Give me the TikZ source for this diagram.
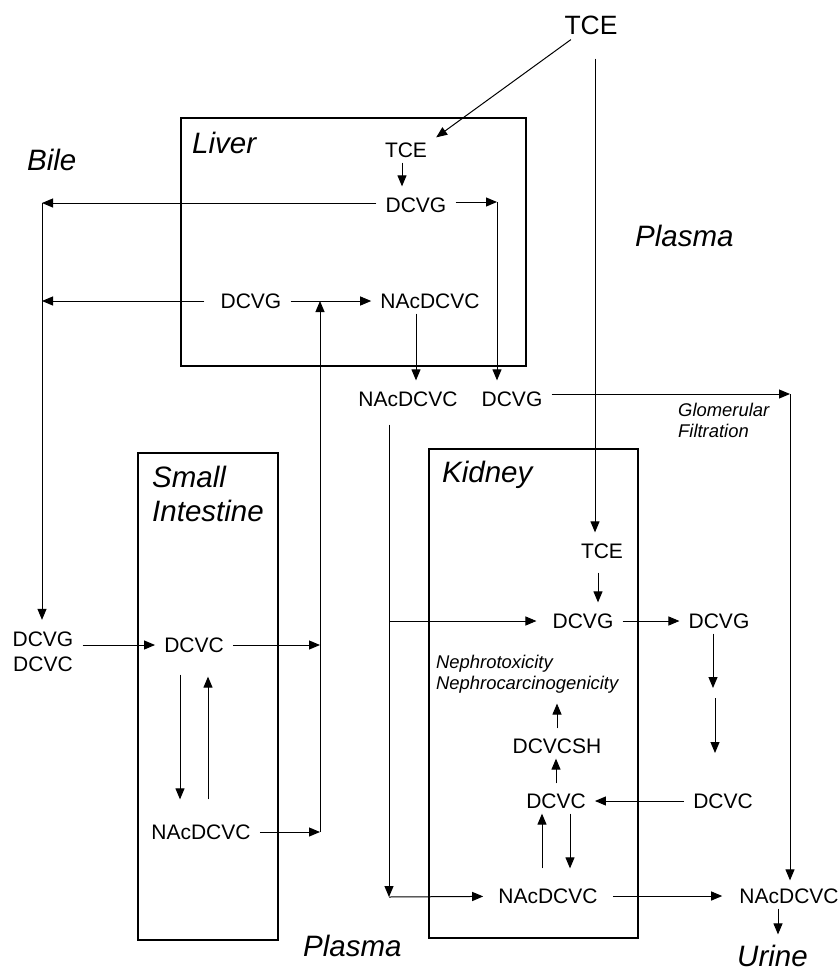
\documentclass[tikz,border=0pt]{standalone}
\usepackage{fontspec}
\setmainfont{Liberation Sans}
\usepackage{tikz}
\usetikzlibrary{arrows.meta}
\newcommand{\chemsize}{\fontsize{21}{25}\selectfont}
\newcommand{\organsize}{\fontsize{29.5}{34}\selectfont\itshape}
\newcommand{\notesize}{\fontsize{18.4}{21}\selectfont\itshape}

\begin{document}
\begin{tikzpicture}[x=1pt,y=-1pt]
\tikzstyle{chem}=[font=\chemsize,inner xsep=9pt,inner ysep=5pt]
\tikzstyle{organ}=[font=\organsize,inner sep=0pt,anchor=base west]
\tikzstyle{note}=[font=\notesize,inner sep=0pt,anchor=north west,align=left]
\tikzstyle{flow}=[line width=1pt,-{Triangle[length=11pt,width=9pt]}]
\tikzstyle{wall}=[line width=1.1pt]
\useasboundingbox (0,0) rectangle (840,972);

% compartments
\draw[wall] (181,118) rectangle (526,366);
\draw[wall] (138,453) rectangle (278,940);
\draw[wall] (429,449) rectangle (638,938);

\node[organ] (liver) at (192,153) {Liver};
\node[organ] (bile) at (27,170) {Bile};
\node[organ] (kidney) at (442,482) {Kidney};
\node[organ] (plasmaTop) at (635,246) {Plasma};
\node[organ] (plasmaBot) at (303,956) {Plasma};
\node[organ] (urine) at (737,966) {Urine};
\node[note,font=\organsize] (smint) at (152,466) {Small\\Intestine};
\node[note] (glomText) at (678,403) {Glomerular\\Filtration};
\node[note] (nephro) at (436,655) {Nephrotoxicity\\Nephrocarcinogenicity};

% species
\node[chem,font=\fontsize{26.5}{30}\selectfont] (tceTop) at (591,25) {TCE};
\node[chem] (tceL) at (406,150) {TCE};
\node[chem] (dcvgA) at (416,205) {DCVG};
\node[chem] (dcvgB) at (251,301) {DCVG};
\node[chem] (nacL) at (430,301) {NAcDCVC};
\node[chem] (nacP) at (408,399) {NAcDCVC};
\node[chem] (dcvgP) at (512,399) {DCVG};
\node[chem,align=center] (bileMix) at (43,652) {DCVG\\DCVC};
\node[chem] (dcvcS) at (194,645) {DCVC};
\node[chem] (nacS) at (201,832) {NAcDCVC};
\node[chem] (tceK) at (602,551) {TCE};
\node[chem] (dcvgK) at (583,621) {DCVG};
\node[chem] (dcvgR) at (719,621) {DCVG};
\node[chem] (dcvcsh) at (557,746) {DCVCSH};
\node[chem] (dcvcK) at (556,801) {DCVC};
\node[chem] (dcvcR) at (723,801) {DCVC};
\node[chem] (nacK) at (548,896) {NAcDCVC};
\node[chem] (nacR) at (789,896) {NAcDCVC};

% liver
\coordinate (bileTop) at (42,203);
\coordinate (liverOut) at (497,202);
\coordinate (siTop) at (320,301);
\draw[flow] (tceTop) -- (tceL.north east);
\draw[flow,shorten >=6pt] ([xshift=-4pt]tceL.south) -- ([xshift=-4pt]tceL.south |- dcvgA.north);
\draw[flow] (dcvgA.west |- bileTop) -- (bileTop);
\draw[flow,shorten >=7pt] (bileTop) -- (bileTop |- bileMix.north);
\draw[flow] (dcvgA.east |- liverOut) -- (liverOut);
\draw[flow,shorten >=6pt] (liverOut) -- (liverOut |- dcvgP.north);
\draw[flow,shorten <=7pt] (dcvgB.west) -- (dcvgB.west -| bileTop);
\draw[flow] (dcvgB) -- (nacL);
\draw[flow,shorten >=6pt] ([xshift=-14pt]nacL.south) -- ([xshift=-14pt]nacL.south |- nacP.north);

% small intestine
\draw[flow] (bileMix.east |- dcvcS) -- (dcvcS);
\draw[flow] (dcvcS) -- (dcvcS -| siTop);
\draw[flow] (nacS) -- (nacS -| siTop);
\draw[flow] (nacS -| siTop) -- (siTop);
\draw[flow,shorten <=17pt,shorten >=20pt] ([xshift=-14pt]dcvcS.south) -- ([xshift=-14pt]dcvcS.south |- nacS.north);
\draw[flow,shorten <=20pt,shorten >=19pt] ([xshift=14pt]dcvcS.south |- nacS.north) -- ([xshift=14pt]dcvcS.south);

% plasma
\coordinate (glom) at (790,394);
\coordinate (plasmaCorner) at (389,897);
\draw[flow] (dcvgP.east |- glom) -- (glom);
\draw[flow,shorten >=3pt] (glom) -- (glom |- nacR.north);
\draw[flow,shorten <=13pt] ([xshift=-19pt]nacP.south) -- (plasmaCorner);
\draw[flow,shorten >=6pt] (plasmaCorner) -- (nacK);
\draw[flow,shorten >=7pt] (plasmaCorner |- dcvgK) -- (dcvgK);
\draw[flow,shorten <=19pt,shorten >=6pt] ([xshift=4pt]tceTop.south) -- ([xshift=4pt]tceTop.south |- tceK.north);

% kidney
\coordinate (gsA) at (713,688);
\coordinate (gsB) at (715,698);
\coordinate (gsC) at (715,753);
\draw[flow,shorten <=9pt,shorten >=6pt] ([xshift=-4pt]tceK.south) -- ([xshift=-4pt]tceK.south |- dcvgK.north);
\draw[flow] (dcvgK) -- (dcvgR);
\draw[flow] (dcvgR.south -| gsA) -- (gsA);
\draw[flow] (gsB) -- (gsC);
\draw[flow] (dcvcR) -- (dcvcK);
\draw[flow,shorten <=5pt] (dcvcK.north) -- (dcvcK.north |- dcvcsh.south);
\draw[flow,shorten <=5pt,shorten >=10pt] (dcvcsh.north) -- (dcvcsh.north |- nephro.south);
\draw[flow,shorten <=15pt] ([xshift=-14pt]dcvcK.south |- nacK.north) -- ([xshift=-14pt]dcvcK.south);
\draw[flow,shorten >=15pt] ([xshift=14pt]dcvcK.south) -- ([xshift=14pt]dcvcK.south |- nacK.north);
\draw[flow,shorten <=6pt,shorten >=8pt] (nacK) -- (nacR);
\draw[flow,shorten >=10pt] ([xshift=-11pt]nacR.south) -- ([xshift=-11pt]nacR.south |- urine.north);
\end{tikzpicture}
\end{document}
